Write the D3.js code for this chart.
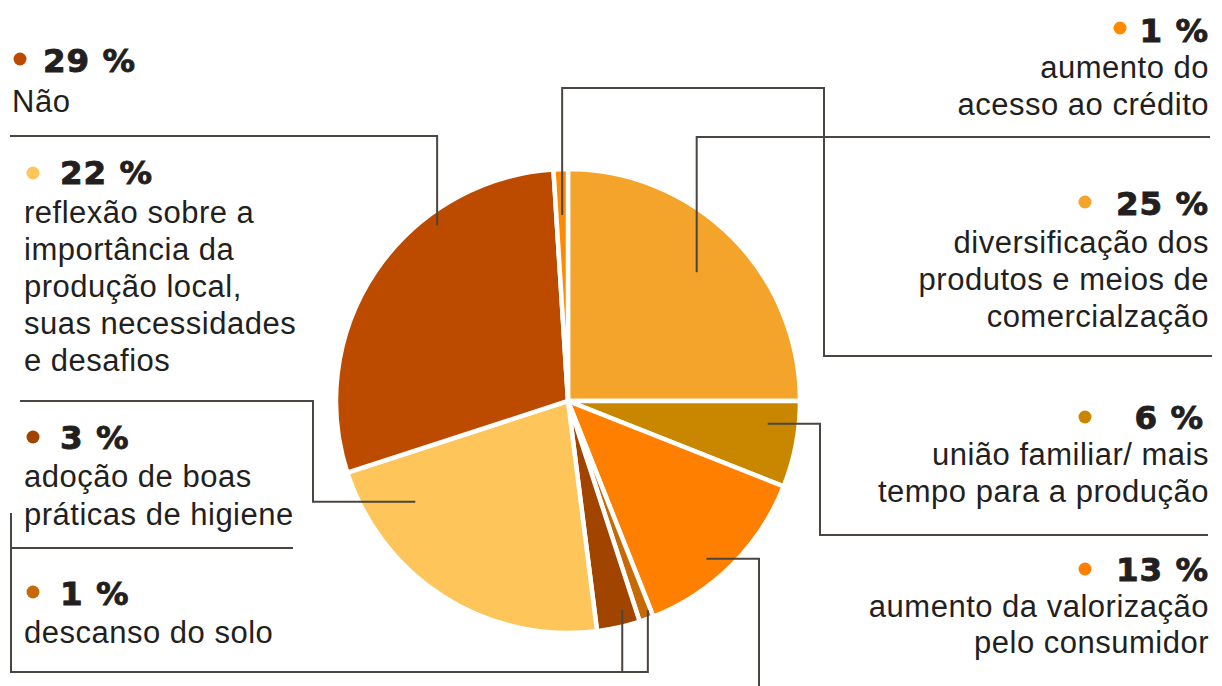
<!DOCTYPE html>
<html>
<head>
<meta charset="utf-8">
<script src="https://cdn.jsdelivr.net/npm/d3@7"></script>
<style>
  html, body { margin: 0; padding: 0; background: #ffffff; }
  svg { display: block; }
  .pct { font-family: "DejaVu Sans", sans-serif; font-weight: bold; font-size: 32.5px; letter-spacing: 1px; fill: #231f20; stroke: #231f20; stroke-width: 0.9px; }
  .desc { font-family: "Liberation Sans", Arial, sans-serif; font-size: 31px; letter-spacing: 0.5px; fill: #231f20; }
</style>
</head>
<body>
<svg id="chart" width="1222" height="686"></svg>
<script>
// Answers, in clockwise order starting from 12 o'clock
const keys = ["diversificacao", "uniao", "valorizacao", "descanso", "adocao", "reflexao", "nao", "credito"];
const values = [25, 6, 13, 1, 3, 22, 29, 1];
const percentLabels = ["25 %", "6 %", "13 %", "1 %", "3 %", "22 %", "29 %", "1 %"];
const descriptions = [
  ["diversificação dos", "produtos e meios de", "comercialzação"],
  ["união familiar/ mais", "tempo para a produção"],
  ["aumento da valorização", "pelo consumidor"],
  ["descanso do solo"],
  ["adoção de boas", "práticas de higiene"],
  ["reflexão sobre a", "importância da", "produção local,", "suas necessidades", "e desafios"],
  ["Não"],
  ["aumento do", "acesso ao crédito"]
];
const colors = ["#f4a42a", "#c98700", "#ff7f00", "#c66a08", "#a04400", "#fec55a", "#bc4b00", "#ff8a00"];

// Pie geometry
const cx = 568, cy = 401, radius = 232;

// Label placement: side, dot, number, description lines, leader line (tip inside slice + elbow route)
const layout = {
  nao:            { anchor: "start", dot: [20, 59],   numX: 43,   numY: 72,  textX: 12,   textY: 112, lh: 37,
                    tip: { t: 0.683, r: 219 }, route: [["v", 136], ["h", 10]] },
  reflexao:       { anchor: "start", dot: [33, 173],  numX: 60,   numY: 184, textX: 24,   textY: 223, lh: 37,
                    tip: { t: 0.805, r: 183 }, route: [["h", 313], ["v", 401], ["h", 20]] },
  adocao:         { anchor: "start", dot: [33, 437],  numX: 60,   numY: 449, textX: 24,   textY: 487, lh: 38,
                    tip: { t: 0.32, r: 216 }, route: [["v", 672], ["h", 11], ["v", 548], ["h", 293]] },
  descanso:       { anchor: "start", dot: [33, 592],  numX: 60,   numY: 605, textX: 24,   textY: 643, lh: 37,
                    tip: { t: 0.2, r: 224 }, route: [["v", 672], ["h", 11], ["v", 513]] },
  credito:        { anchor: "end",   dot: [1120, 28], numX: 1209, numY: 42,  textX: 1209, textY: 78,  lh: 37,
                    tip: { t: 0.5, r: 186 }, route: [["v", 88], ["h", 824], ["v", 356], ["h", 1212]] },
  diversificacao: { anchor: "end",   dot: [1085, 202], numX: 1209, numY: 215, textX: 1209, textY: 253, lh: 37,
                    tip: { t: 0.5, r: 182 }, route: [["v", 137], ["h", 1210]] },
  uniao:          { anchor: "end",   dot: [1085, 417], numX: 1204, numY: 429, textX: 1209, textY: 465, lh: 37,
                    tip: { t: 0.3, r: 201 }, route: [["h", 820], ["v", 535], ["h", 1208]] },
  valorizacao:    { anchor: "end",   dot: [1085, 569], numX: 1209, numY: 581, textX: 1209, textY: 617, lh: 36,
                    tip: { t: 0.58, r: 210 }, route: [["h", 759], ["v", 690]] }
};

const svg = d3.select("#chart");

const pie = d3.pie().sort(null).startAngle(0).endAngle(2 * Math.PI).value(d => d.value);
const arcs = pie(keys.map((k, i) => ({ key: k, value: values[i], color: colors[i] })));
const arc = d3.arc().innerRadius(0).outerRadius(radius);

const gPie = svg.append("g").attr("transform", `translate(${cx},${cy})`);
gPie.selectAll("path")
  .data(arcs)
  .join("path")
  .attr("d", arc)
  .attr("fill", d => d.data.color)
  .attr("stroke", "#ffffff")
  .attr("stroke-width", 4.5)
  .attr("stroke-linejoin", "miter");

// Leader lines from inside each slice out to its label
const gLines = svg.append("g");
arcs.forEach(a => {
  const L = layout[a.data.key];
  const ang = a.startAngle + L.tip.t * (a.endAngle - a.startAngle);
  let x = cx + L.tip.r * Math.sin(ang);
  let y = cy - L.tip.r * Math.cos(ang);
  const pts = [[x, y]];
  L.route.forEach(([dir, v]) => {
    if (dir === "v") y = v; else x = v;
    pts.push([x, y]);
  });
  gLines.append("path")
    .attr("d", d3.line()(pts))
    .attr("fill", "none")
    .attr("stroke", "#4a4541")
    .attr("stroke-width", 2);
});

// Labels: dot, bold percentage, description
const gLabels = svg.append("g");
arcs.forEach((a, i) => {
  const L = layout[a.data.key];
  gLabels.append("circle")
    .attr("cx", L.dot[0]).attr("cy", L.dot[1]).attr("r", 6.5)
    .attr("fill", a.data.color);
  gLabels.append("text")
    .attr("class", "pct")
    .attr("x", L.numX).attr("y", L.numY)
    .attr("text-anchor", L.anchor)
    .text(percentLabels[i]);
  const t = gLabels.append("text")
    .attr("class", "desc")
    .attr("text-anchor", L.anchor);
  descriptions[i].forEach((line, j) => {
    t.append("tspan")
      .attr("x", L.textX)
      .attr("y", L.textY + j * L.lh)
      .text(line);
  });
});
</script>
</body>
</html>
